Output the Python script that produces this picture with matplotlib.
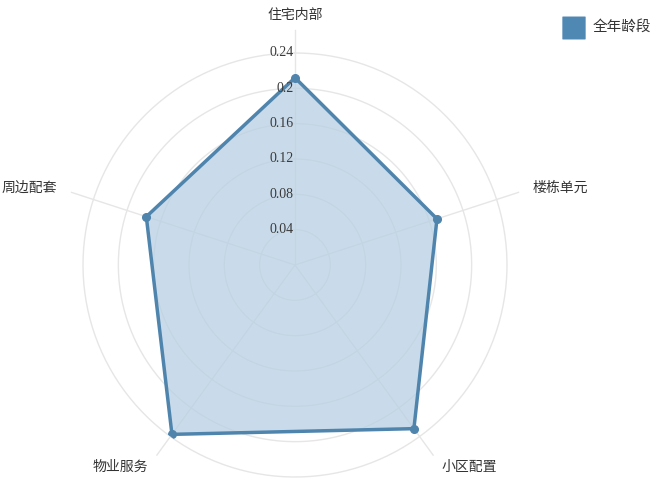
import numpy as np
import matplotlib.pyplot as plt
from matplotlib.patches import FancyBboxPatch

plt.rcParams['font.family'] = ['Noto Sans CJK SC', 'DejaVu Sans']

# radar categories, clockwise from top
categories = ['住宅内部', '楼栋单元', '小区配置', '物业服务', '周边配套']
values = [0.212, 0.169, 0.229, 0.237, 0.177]
series_name = '全年龄段'
ticks = [0.04, 0.08, 0.12, 0.16, 0.2, 0.24]
tick_labels = ['0.04', '0.08', '0.12', '0.16', '0.2', '0.24']

W, H = 660, 484
cx, cy, rad = 295, 265, 212  # centre and outer radius in pixels

fig = plt.figure(figsize=(6.6, 4.84), dpi=100)
ax = fig.add_axes([(cx - rad) / W, (H - cy - rad) / H, 2 * rad / W, 2 * rad / H],
                  projection='polar')
ax.set_theta_offset(np.pi / 2)
ax.set_theta_direction(-1)
ax.set_ylim(0, 0.24)
ax.spines['polar'].set_visible(False)
ax.set_xticks([])
ax.set_yticks(ticks)
ax.set_yticklabels([])
ax.grid(False)
ax.patch.set_alpha(0)

angles = np.linspace(0, 2 * np.pi, len(categories), endpoint=False)

# circles
th = np.linspace(0, 2 * np.pi, 300)
for t in ticks:
    ax.plot(th, np.full_like(th, t), color='#e6e6e6', lw=1, zorder=1, clip_on=False)

# spokes and category labels
for a, name in zip(angles, categories):
    ax.plot([a, a], [0, 0.266], color='#e6e6e6', lw=1, zorder=1, clip_on=False)
    deg = np.degrees(a) % 360
    if deg < 1:
        ha = 'center'
    elif deg < 180:
        ha = 'left'
    else:
        ha = 'right'
    ax.text(a, 0.283, name, ha=ha, va='center', fontsize=10, color='#333333',
            clip_on=False)

# data polygon
ang_c = np.append(angles, angles[0])
val_c = np.append(values, values[0])
ax.fill(ang_c, val_c, color='#b8d0e3', alpha=0.75, zorder=2)
ax.plot(ang_c, val_c, color='#4f84ad', lw=2.5, zorder=3)
ax.plot(angles, values, 'o', color='#4f84ad', ms=5.5, zorder=4)

# tick labels along top spoke
for t, lab in zip(ticks, tick_labels):
    ax.annotate(lab, xy=(0, t), xytext=(-1, 0), textcoords='offset points',
                ha='right', va='center', fontsize=10, color='#3a3a3a',
                family='Liberation Serif', zorder=5)

# legend
fig.patches.append(FancyBboxPatch((563 / W, 1 - 39 / H), 22 / W, 22 / H,
                                  boxstyle='round,pad=0.001', transform=fig.transFigure,
                                  facecolor='#5088b4', edgecolor='none'))
fig.text(593 / W, 1 - 27 / H, series_name, ha='left', va='center', fontsize=10.5,
         color='#333333')

fig.savefig('out.png', dpi=100)
